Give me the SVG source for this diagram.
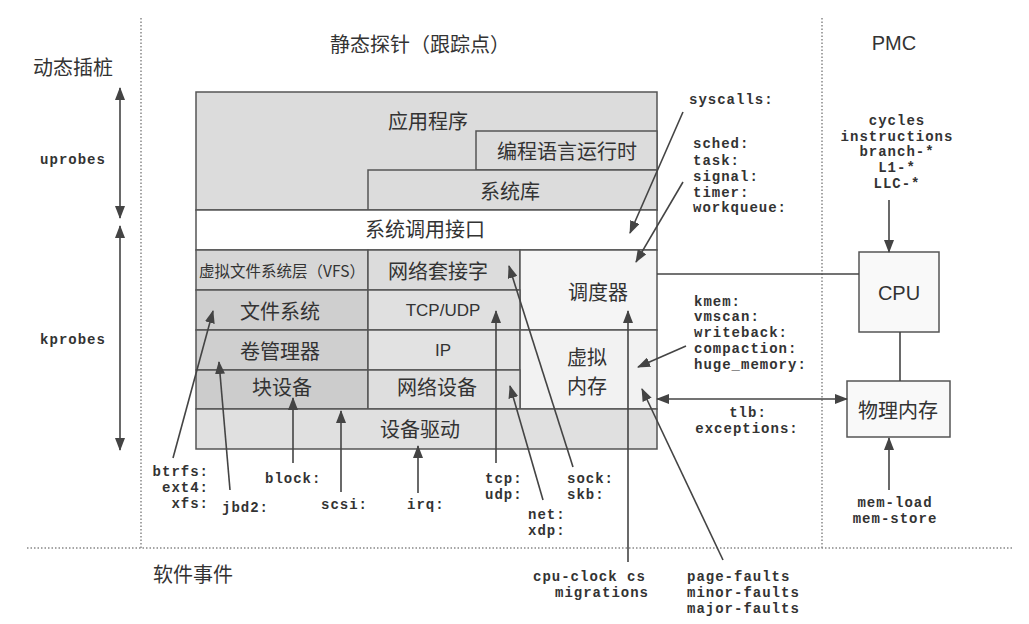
<svg xmlns="http://www.w3.org/2000/svg" width="1029" height="624" viewBox="0 0 1029 624">
<style>
.bx{stroke:#555;stroke-width:1.5}
.cj{font-family:"Noto Sans CJK SC","Noto Sans",sans-serif;fill:#333;text-anchor:middle}
.t20{font-size:20px}
.sn{font-family:"Liberation Sans","Noto Sans CJK SC",sans-serif;fill:#333;text-anchor:middle}
.mo{font-family:"Liberation Mono",monospace;font-weight:bold;font-size:14px;letter-spacing:1px;fill:#333}
.mid{text-anchor:middle}
.end{text-anchor:end}
.dot{stroke:#888;stroke-width:1.5;stroke-dasharray:1.5 2;fill:none}
.ln{stroke:#444;stroke-width:1.6;fill:none}
.ar{marker-end:url(#ah)}
</style>
<defs>
<marker id="ah" markerWidth="13" markerHeight="10" refX="12" refY="5" orient="auto" markerUnits="userSpaceOnUse">
<path d="M0,0 L13,5 L0,10 Z" fill="#444"/>
</marker>
<marker id="ahs" markerWidth="13" markerHeight="10" refX="1" refY="5" orient="auto" markerUnits="userSpaceOnUse">
<path d="M13,0 L0,5 L13,10 Z" fill="#444"/>
</marker>
</defs>
<rect width="1029" height="624" fill="#fff"/>

<g id="dividers">
<line class="dot" x1="141" y1="18" x2="141" y2="548"/>
<line class="dot" x1="822" y1="18" x2="822" y2="548"/>
<line class="dot" x1="27" y1="548" x2="1012" y2="548"/>
</g>

<g id="titles">
<text class="cj t20" x="73" y="75">动态插桩</text>
<text class="cj t20" x="420" y="52">静态探针（跟踪点）</text>
<text class="sn t20" x="894" y="50">PMC</text>
<text class="cj t20" x="193" y="582">软件事件</text>
</g>

<g id="app">
<rect class="bx" x="196" y="92" width="461" height="118" fill="#dcdcdc"/>
<text class="cj t20" x="428" y="129">应用程序</text>
</g>
<g id="runtime">
<rect class="bx" x="476" y="131" width="181" height="39" fill="#dcdcdc"/>
<text class="cj t20" x="567" y="159">编程语言运行时</text>
</g>
<g id="syslib">
<rect class="bx" x="368" y="170" width="289" height="40" fill="#dcdcdc"/>
<text class="cj t20" x="510" y="199">系统库</text>
</g>
<g id="syscall-if">
<rect class="bx" x="196" y="210" width="461" height="40" fill="#fff"/>
<text class="cj t20" x="425" y="237">系统调用接口</text>
</g>
<g id="vfs">
<rect class="bx" x="196" y="250" width="172" height="40" fill="#d6d6d6"/>
<text class="cj" x="282" y="277" font-size="15.5">虚拟文件系统层（VFS）</text>
</g>
<g id="socket">
<rect class="bx" x="368" y="250" width="152" height="40" fill="#dcdcdc"/>
<text class="cj t20" x="438" y="279">网络套接字</text>
</g>
<g id="sched">
<rect class="bx" x="520" y="250" width="137" height="80" fill="#f5f5f5"/>
<text class="cj t20" x="598" y="300">调度器</text>
</g>
<g id="fs">
<rect class="bx" x="196" y="290" width="172" height="40" fill="#cfcfcf"/>
<text class="cj t20" x="280" y="319">文件系统</text>
</g>
<g id="tcpudp">
<rect class="bx" x="368" y="290" width="152" height="40" fill="#e0e0e0"/>
<text class="sn" x="443" y="316" font-size="17">TCP/UDP</text>
</g>
<g id="volmgr">
<rect class="bx" x="196" y="330" width="172" height="40" fill="#cfcfcf"/>
<text class="cj t20" x="280" y="359">卷管理器</text>
</g>
<g id="ip">
<rect class="bx" x="368" y="330" width="152" height="40" fill="#e2e2e2"/>
<text class="sn" x="443" y="356" font-size="17">IP</text>
</g>
<g id="vmem">
<rect class="bx" x="520" y="330" width="137" height="79" fill="#f2f2f2"/>
<text class="cj t20" x="587" y="365">虚拟</text>
<text class="cj t20" x="587" y="394">内存</text>
</g>
<g id="blockdev">
<rect class="bx" x="196" y="370" width="172" height="39" fill="#cccccc"/>
<text class="cj t20" x="282" y="395">块设备</text>
</g>
<g id="netdev">
<rect class="bx" x="368" y="370" width="152" height="39" fill="#dedede"/>
<text class="cj t20" x="437" y="395">网络设备</text>
</g>
<g id="drivers">
<rect class="bx" x="196" y="409" width="461" height="40" fill="#e0e0e0"/>
<text class="cj t20" x="420" y="437">设备驱动</text>
</g>
<g id="cpu">
<rect class="bx" x="859" y="252" width="80" height="80" fill="#f9f9f9"/>
<text class="sn t20" x="899" y="300">CPU</text>
</g>
<g id="physmem">
<rect class="bx" x="847" y="381" width="103" height="56" fill="#f9f9f9"/>
<text class="cj t20" x="898" y="418">物理内存</text>
</g>

<g id="connectors">
<line class="ln ar" x1="120" y1="152" x2="120" y2="88"/>
<line class="ln ar" x1="120" y1="152" x2="120" y2="218"/>
<line class="ln ar" x1="120" y1="338" x2="120" y2="226"/>
<line class="ln ar" x1="120" y1="338" x2="120" y2="450"/>
<line class="ln ar" x1="683" y1="112" x2="630" y2="233"/>
<line class="ln ar" x1="683" y1="182" x2="636" y2="262"/>
<line class="ln ar" x1="686" y1="346" x2="638" y2="367"/>
<line class="ln" x1="657" y1="274" x2="859" y2="274"/>
<line class="ln ar" x1="889" y1="200" x2="889" y2="252"/>
<line class="ln" x1="900" y1="332" x2="900" y2="381"/>
<line class="ln" x1="657" y1="399" x2="847" y2="399" marker-start="url(#ahs)" marker-end="url(#ah)"/>
<line class="ln ar" x1="889" y1="490" x2="889" y2="438"/>
<line class="ln ar" x1="173" y1="458" x2="213" y2="311"/>
<line class="ln ar" x1="230" y1="490" x2="219" y2="362"/>
<line class="ln ar" x1="293" y1="463" x2="293" y2="398"/>
<line class="ln ar" x1="341" y1="492" x2="341" y2="411"/>
<line class="ln ar" x1="418" y1="493" x2="418" y2="446"/>
<line class="ln ar" x1="496" y1="463" x2="496" y2="311"/>
<line class="ln ar" x1="543" y1="500" x2="510" y2="386"/>
<line class="ln ar" x1="573" y1="467" x2="509" y2="266"/>
<line class="ln ar" x1="628" y1="562" x2="628" y2="311"/>
<line class="ln ar" x1="723" y1="560" x2="642" y2="389"/>
</g>

<g id="labels">
<text class="mo mid" x="73" y="164">uprobes</text>
<text class="mo mid" x="73" y="344">kprobes</text>
<text class="mo" x="689" y="104">syscalls:</text>
<text class="mo" x="693" y="148">sched:</text>
<text class="mo" x="693" y="165">task:</text>
<text class="mo" x="693" y="181">signal:</text>
<text class="mo" x="693" y="197">timer:</text>
<text class="mo" x="693" y="212">workqueue:</text>
<text class="mo mid" x="897" y="125">cycles</text>
<text class="mo mid" x="897" y="141">instructions</text>
<text class="mo mid" x="897" y="156">branch-*</text>
<text class="mo mid" x="897" y="172">L1-*</text>
<text class="mo mid" x="897" y="188">LLC-*</text>
<text class="mo" x="694" y="306">kmem:</text>
<text class="mo" x="694" y="321">vmscan:</text>
<text class="mo" x="694" y="337">writeback:</text>
<text class="mo" x="694" y="353">compaction:</text>
<text class="mo" x="694" y="369">huge_memory:</text>
<text class="mo mid" x="748" y="417">tlb:</text>
<text class="mo mid" x="747" y="433">exceptions:</text>
<text class="mo mid" x="895" y="507">mem-load</text>
<text class="mo mid" x="895" y="523">mem-store</text>
<text class="mo end" x="209" y="476">btrfs:</text>
<text class="mo end" x="209" y="492">ext4:</text>
<text class="mo end" x="209" y="508">xfs:</text>
<text class="mo" x="222" y="512">jbd2:</text>
<text class="mo" x="265" y="483">block:</text>
<text class="mo" x="321" y="509">scsi:</text>
<text class="mo" x="407" y="509">irq:</text>
<text class="mo" x="485" y="483">tcp:</text>
<text class="mo" x="485" y="499">udp:</text>
<text class="mo" x="528" y="519">net:</text>
<text class="mo" x="528" y="535">xdp:</text>
<text class="mo" x="567" y="483">sock:</text>
<text class="mo" x="567" y="499">skb:</text>
<text class="mo" x="533" y="581">cpu-clock cs</text>
<text class="mo end" x="649" y="597">migrations</text>
<text class="mo" x="687" y="581">page-faults</text>
<text class="mo" x="687" y="597">minor-faults</text>
<text class="mo" x="687" y="613">major-faults</text>
</g>
</svg>
